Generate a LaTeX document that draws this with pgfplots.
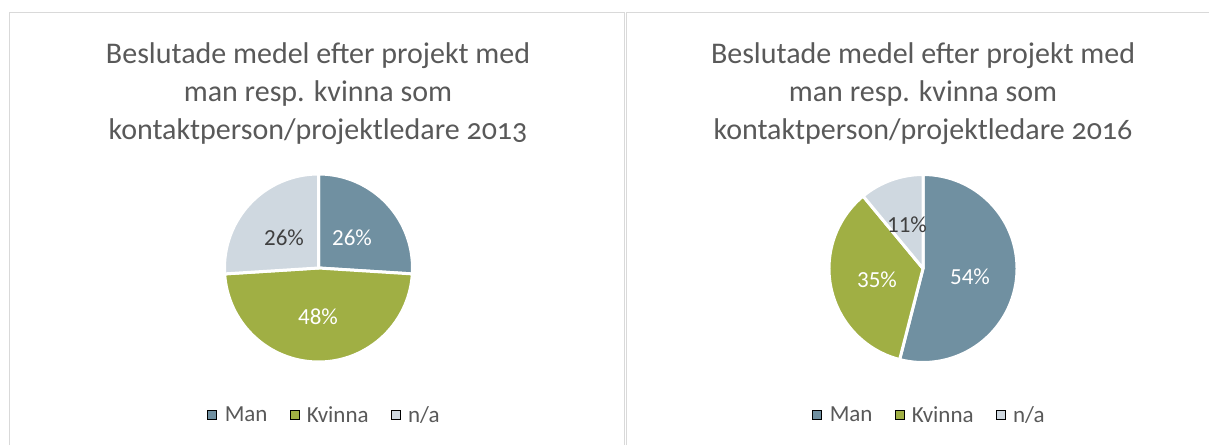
\documentclass[border=0pt]{standalone}
\usepackage{fontspec}
\setmainfont{Carlito}
\usepackage{pgfplots}
\usepackage{pgfplotstable}
\pgfplotsset{compat=1.18}
\definecolor{manc}{RGB}{112,144,161}
\definecolor{kvic}{RGB}{160,175,68}
\definecolor{nac}{RGB}{207,216,224}
\definecolor{textc}{RGB}{89,89,89}
\definecolor{lblc}{RGB}{64,64,64}
\definecolor{bordc}{RGB}{217,217,217}

% share per category, label position in pixels
\pgfplotstableread{
name   val  lx   ly   col   tcol
Man    26   352  238  manc  white
Kvinna 48   318  317  kvic  white
na     26   284  238  nac   lblc
}\dataA
\pgfplotstableread{
name   val  lx   ly   col   tcol
Man    54   970  277  manc  white
Kvinna 35   877  280  kvic  white
na     11   907  225  nac   lblc
}\dataB

\newcommand\drawpie[4]{%
  \pgfplotstablegetrowsof{#1}\pgfmathtruncatemacro\lastrow{\pgfplotsretval-1}%
  \gdef\pieang{90}%
  \foreach \i in {0,...,\lastrow}{%
    \pgfplotstablegetelem{\i}{val}\of{#1}\let\pv\pgfplotsretval
    \pgfplotstablegetelem{\i}{col}\of{#1}\let\pc\pgfplotsretval
    \pgfmathsetmacro\pend{\pieang-3.6*\pv}%
    \fill[\pc,draw=white,line width=3pt,line join=round] (axis cs:#2,#3) -- ++(\pieang:#4pt)
      arc[start angle=\pieang,end angle=\pend,radius=#4pt] -- cycle;
    \xdef\pieang{\pend}%
  }%
  \foreach \i in {0,...,\lastrow}{%
    \pgfplotstablegetelem{\i}{val}\of{#1}\let\pv\pgfplotsretval
    \pgfplotstablegetelem{\i}{lx}\of{#1}\let\plx\pgfplotsretval
    \pgfplotstablegetelem{\i}{ly}\of{#1}\let\ply\pgfplotsretval
    \pgfplotstablegetelem{\i}{tcol}\of{#1}\let\ptc\pgfplotsretval
    \node[text=\ptc,font=\fontsize{23}{28}\selectfont,inner sep=0pt] at (axis cs:\plx,\ply) {\pv\%};
  }%
}

\pgfplotsset{
  panel/.style={scale only axis,height=445pt,ymin=0,ymax=445,y dir=reverse,
    hide axis,clip=false,
    legend columns=3,legend cell align=left,
    legend style={draw=none,fill=none,text=textc,font=\fontsize{23}{28}\selectfont,
      nodes={inner sep=0pt},
      /tikz/every odd column/.append style={column sep=8pt},
      /tikz/every even column/.append style={column sep=22pt}},
    legend image code/.code={\fill[##1] (0pt,-4.5pt) rectangle (9pt,4.5pt);}},
}
\tikzset{titlefont/.style={font=\fontsize{30}{38}\selectfont\addfontfeatures{Numbers=OldStyle},text=textc,anchor=base,inner sep=0pt}}

\begin{document}
\begin{tikzpicture}
\useasboundingbox (0,0) rectangle (1209pt,445pt);
\begin{axis}[panel,at={(0pt,0pt)},anchor=south west,width=617pt,xmin=0,xmax=617,
  legend style={at={(axis cs:323.5,415)},anchor=center}]
\addlegendimage{fill=manc}\addlegendentry{Man}
\addlegendimage{fill=kvic}\addlegendentry{Kvinna}
\addlegendimage{fill=nac}\addlegendentry{n/a}
\draw[bordc,line width=1pt] (axis cs:9.5,445) -- (axis cs:9.5,12.5) -- (axis cs:624.5,12.5) -- (axis cs:624.5,445);
\node[titlefont] at (axis cs:318,63) {Beslutade medel efter projekt med};
\node[titlefont] at (axis cs:318,101) {man resp. kvinna som};
\node[titlefont] at (axis cs:318,139) {kontaktperson/projektledare 2013};
\pgfplotsextra{\drawpie{\dataA}{318.5}{268}{94}}
\end{axis}
\begin{axis}[panel,at={(617pt,0pt)},anchor=south west,width=592pt,xmin=617,xmax=1209,
  legend style={at={(axis cs:928.5,415)},anchor=center}]
\addlegendimage{fill=manc}\addlegendentry{Man}
\addlegendimage{fill=kvic}\addlegendentry{Kvinna}
\addlegendimage{fill=nac}\addlegendentry{n/a}
\draw[bordc,line width=1pt] (axis cs:626.5,445) -- (axis cs:626.5,12.5) -- (axis cs:1209,12.5);
\node[titlefont] at (axis cs:923,63) {Beslutade medel efter projekt med};
\node[titlefont] at (axis cs:923,101) {man resp. kvinna som};
\node[titlefont] at (axis cs:923,139) {kontaktperson/projektledare 2016};
\pgfplotsextra{\drawpie{\dataB}{923}{268.5}{94}}
\end{axis}
\end{tikzpicture}
\end{document}
